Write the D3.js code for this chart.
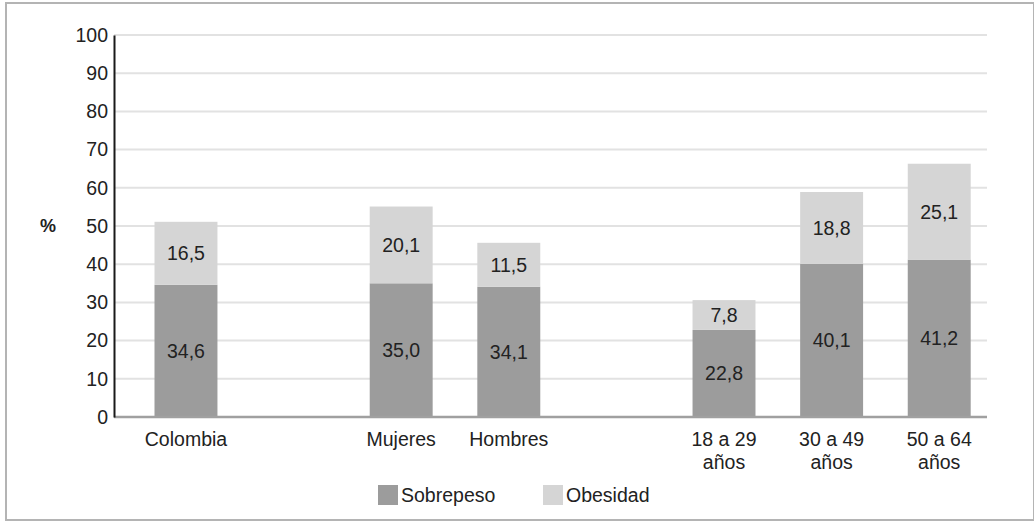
<!DOCTYPE html>
<html>
<head>
<meta charset="utf-8">
<script src="https://cdn.jsdelivr.net/npm/d3@7"></script>
<style>
  html, body { margin: 0; padding: 0; background: #fff; }
  svg { display: block; font-family: "Liberation Sans", Arial, sans-serif; }
</style>
</head>
<body>
<svg id="chart" width="1034" height="522"></svg>
<script>
// Categories (blank keys leave a gap between groups)
const categories = ["Colombia", "_gap1", "Mujeres", "Hombres", "_gap2", "18 a 29 años", "30 a 49 años", "50 a 64 años"];
const categoryLines = {
  "Colombia": ["Colombia"],
  "Mujeres": ["Mujeres"],
  "Hombres": ["Hombres"],
  "18 a 29 años": ["18 a 29", "años"],
  "30 a 49 años": ["30 a 49", "años"],
  "50 a 64 años": ["50 a 64", "años"]
};
const barCategories = ["Colombia", "Mujeres", "Hombres", "18 a 29 años", "30 a 49 años", "50 a 64 años"];
const sobrepeso = [34.6, 35.0, 34.1, 22.8, 40.1, 41.2];
const obesidad = [16.5, 20.1, 11.5, 7.8, 18.8, 25.1];
const seriesNames = ["Sobrepeso", "Obesidad"];
const seriesColors = ["#9c9c9c", "#d5d5d5"];
const yTicks = [0, 10, 20, 30, 40, 50, 60, 70, 80, 90, 100];

const fmt = v => d3.format(".1f")(v).replace(".", ",");

const svg = d3.select("#chart");

// outer frame
svg.append("rect")
  .attr("x", 6).attr("y", 3).attr("width", 1028).attr("height", 517)
  .attr("fill", "none").attr("stroke", "#b4b4b4").attr("stroke-width", 2);

const plot = { left: 114, right: 987, top: 35, bottom: 417 };

const y = d3.scaleLinear().domain([0, 100]).range([plot.bottom, plot.top]);
const x = d3.scaleBand().domain(categories).range([154.5, 970.7])
  .paddingInner(0.415).paddingOuter(0);

// horizontal gridlines
svg.append("g").selectAll("line").data(yTicks.filter(t => t > 0)).join("line")
  .attr("x1", plot.left).attr("x2", plot.right)
  .attr("y1", d => y(d)).attr("y2", d => y(d))
  .attr("stroke", "#e2e2e2").attr("stroke-width", 2);

// stacked data
const rows = barCategories.map((c, i) => ({ cat: c, Sobrepeso: sobrepeso[i], Obesidad: obesidad[i] }));
const stacked = d3.stack().keys(seriesNames)(rows);

const layers = svg.append("g").selectAll("g").data(stacked).join("g")
  .attr("fill", (d, i) => seriesColors[i]);

layers.selectAll("rect").data(d => d).join("rect")
  .attr("x", d => x(d.data.cat))
  .attr("width", x.bandwidth())
  .attr("y", d => y(d[1]))
  .attr("height", d => y(d[0]) - y(d[1]));

// value labels centred in each segment
stacked.forEach(layer => {
  svg.append("g").selectAll("text").data(layer).join("text")
    .attr("x", d => x(d.data.cat) + x.bandwidth() / 2)
    .attr("y", d => y((d[0] + d[1]) / 2))
    .attr("dy", "0.35em")
    .attr("text-anchor", "middle")
    .attr("font-size", 19.5)
    .attr("fill", "#222")
    .text(d => fmt(d[1] - d[0]));
});

// baseline
svg.append("line")
  .attr("x1", plot.left).attr("x2", plot.right)
  .attr("y1", y(0)).attr("y2", y(0))
  .attr("stroke", "#a0a0a0").attr("stroke-width", 2.5);

// y axis
const yAxis = d3.axisLeft(y).tickValues(yTicks).tickSize(0).tickPadding(6);
const yg = svg.append("g").attr("transform", `translate(${plot.left},0)`).call(yAxis);
yg.select(".domain").attr("stroke", "#1a1a1a").attr("stroke-width", 2);
yg.selectAll("text").attr("font-size", 19.5).attr("fill", "#222")
  .attr("font-family", "'Liberation Sans', Arial, sans-serif");

// axis title
svg.append("text")
  .attr("x", 48).attr("y", y(50)).attr("dy", "0.35em")
  .attr("text-anchor", "middle").attr("font-size", 18).attr("font-weight", "bold")
  .attr("fill", "#222").text("%");

// category labels
const xl = svg.append("g").selectAll("text").data(barCategories).join("text")
  .attr("x", d => x(d) + x.bandwidth() / 2)
  .attr("y", 446)
  .attr("text-anchor", "middle")
  .attr("font-size", 19.5)
  .attr("fill", "#222");
xl.selectAll("tspan").data(d => categoryLines[d]).join("tspan")
  .attr("x", function() { return d3.select(this.parentNode).attr("x"); })
  .attr("dy", (d, i) => i === 0 ? 0 : 23)
  .text(d => d);

// legend
const legendX = [378, 543];
const lg = svg.append("g").selectAll("g").data(seriesNames).join("g")
  .attr("transform", (d, i) => `translate(${legendX[i]},485)`);
lg.append("rect").attr("width", 20).attr("height", 20)
  .attr("fill", (d, i) => seriesColors[i]);
lg.append("text").attr("x", 23).attr("y", 10).attr("dy", "0.35em")
  .attr("font-size", 19.5).attr("fill", "#222").text(d => d);
</script>
</body>
</html>
